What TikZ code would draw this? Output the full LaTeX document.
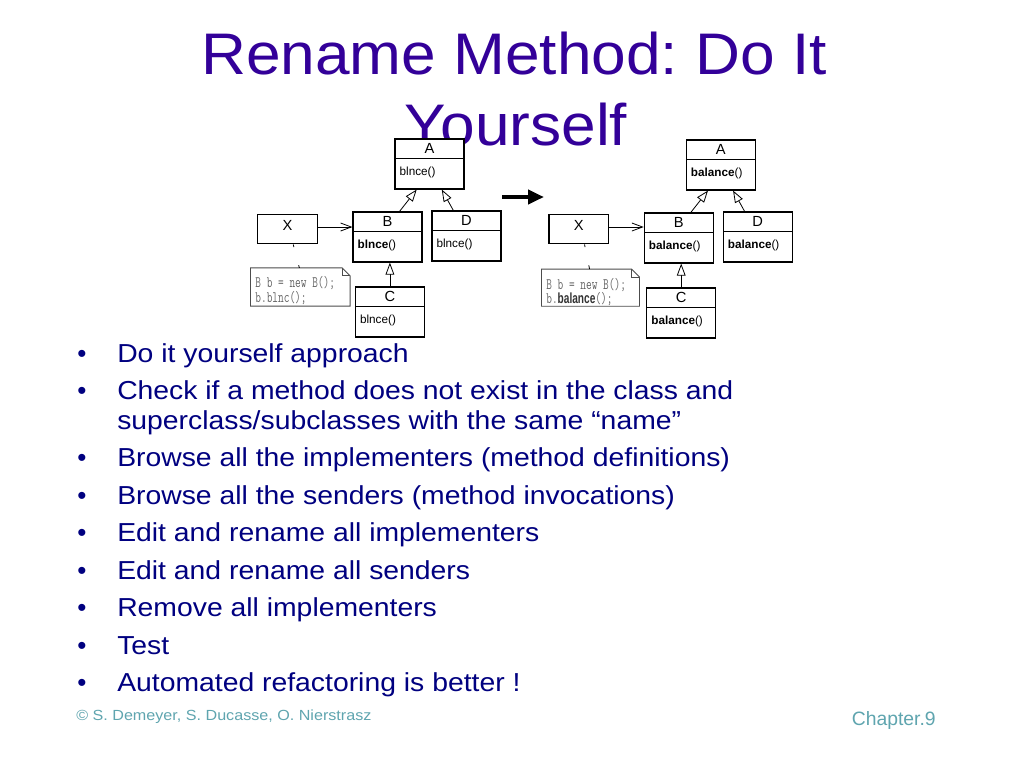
\documentclass[tikz,border=0pt]{standalone}
\usepackage{graphicx}
\usepackage{fontspec}
\setmainfont{Liberation Sans}
\usetikzlibrary{arrows.meta, shapes.multipart}
\definecolor{titlecol}{RGB}{51,0,153}
\definecolor{itemcol}{RGB}{0,0,128}
\definecolor{footcol}{RGB}{95,165,175}
\frenchspacing
\newcommand{\slidetxt}[2][1.08]{\scalebox{#1}[1]{#2}}
\newcommand{\clsname}[1]{\parbox[c][13.9pt][c]{51.75pt}{\centering\fontsize{11}{12}\selectfont #1}}
\newcommand{\clsops}[1]{\parbox[c][21.75pt][t]{51.75pt}{\fontsize{8.8}{10}\selectfont\hspace*{3.5pt}\rule{0pt}{12pt}#1}}
\newcommand{\notecode}[1]{\scalebox{0.69}[1]{#1}}
\tikzset{
  umlclass/.style={draw, fill=white, line width=0.9pt, rectangle split, rectangle split parts=2, inner sep=0pt},
  umlbox/.style={draw, fill=white, line width=0.9pt, inner sep=0pt},
  notebox/.style={inner sep=0pt, text=black!60},
  noteline/.style={draw=black!70, line width=0.6pt},
  anchorline/.style={line width=0.6pt, dash pattern=on 2pt off 14pt on 3pt},
  inherit/.style={-{Triangle[open, length=9pt, width=6.5pt, fill=white]}, line width=0.6pt},
  assoc/.style={-{Straight Barb[length=8pt, width=6pt]}, line width=0.6pt},
  bigarrow/.style={line width=3pt, -{Triangle[length=12pt, width=10.5pt]}},
  titletext/.style={anchor=base, text=titlecol, font=\fontsize{44}{50}\selectfont, inner sep=0pt},
  item/.style={anchor=base west, text=itemcol, font=\fontsize{19.5}{22.5}\selectfont, inner sep=0pt},
  foot/.style={text=footcol, inner sep=0pt}
}
\begin{document}
\begin{tikzpicture}[x=0.75pt, y=-0.75pt]
\path[fill=white, use as bounding box] (0,0) rectangle (1024,768);

\node[titletext] (t1) at (514,74) {\slidetxt[1.06]{Rename Method: Do It}};
\node[titletext] (t2) at (516,145) {\slidetxt[1.06]{Yourself}};

% before
\node[umlclass] (A1) at (429.5,164) {\clsname{A}\nodepart{two}\clsops{blnce()}};
\node[umlclass] (B1) at (387.5,237) {\clsname{B}\nodepart{two}\clsops{\textbf{blnce}()}};
\node[umlclass] (D1) at (466.4,236) {\clsname{D}\nodepart{two}\clsops{blnce()}};
\node[umlclass] (C1) at (389.9,312) {\clsname{C}\nodepart{two}\clsops{blnce()}};
\node[umlbox] (X1) at (287.5,229) {\parbox[c][22.3pt][t]{44.7pt}{\centering\fontsize{11}{12}\selectfont\rule{0pt}{12.3pt}X}};
\node[notebox] (n1) at (300.3,287) {\parbox[c][28.3pt][t]{74.3pt}{\ttfamily\fontsize{12}{9}\selectfont\hspace*{3.5pt}\rule{0pt}{14.8pt}\notecode{B b = new B();}\\\hspace*{3.5pt}\notecode{b.blnc();}}};
\draw[noteline] (n1.north west) -- ([xshift=-6pt]n1.north east) -- ([yshift=-6pt]n1.north east) -- (n1.south east) -- (n1.south west) -- cycle;
\draw[noteline] ([xshift=-6pt]n1.north east) |- ([yshift=-6pt]n1.north east);
\draw[assoc] ([yshift=1.5pt]X1.east) -- ([yshift=1.5pt]X1.east -| B1.west);
\draw[anchorline] ([xshift=4.3pt]X1.south) -- ([xshift=-0.7pt]n1.north);
\draw[inherit] ([xshift=9pt]B1.north) -- ([xshift=-9.6pt]A1.south);
\draw[inherit] ([xshift=-9.8pt]D1.north) -- ([xshift=9.2pt]A1.south);
\draw[inherit] (C1.north) -- (C1.north |- B1.south);

\coordinate (g0) at (502,197);
\coordinate (g1) at (544,197);
\draw[bigarrow] (g0) -- (g1);

% after
\node[umlclass] (A2) at (720.8,165) {\clsname{A}\nodepart{two}\clsops{\textbf{balance}()}};
\node[umlclass] (B2) at (678.8,238) {\clsname{B}\nodepart{two}\clsops{\textbf{balance}()}};
\node[umlclass] (D2) at (757.7,237) {\clsname{D}\nodepart{two}\clsops{\textbf{balance}()}};
\node[umlclass] (C2) at (681.2,313) {\clsname{C}\nodepart{two}\clsops{\textbf{balance}()}};
\node[umlbox] (X2) at (578.8,229) {\parbox[c][22.3pt][t]{44.7pt}{\centering\fontsize{11}{12}\selectfont\rule{0pt}{12.3pt}X}};
\node[notebox] (n2) at (590.5,287.7) {\parbox[c][27.5pt][t]{73.2pt}{\ttfamily\fontsize{12}{9}\selectfont\hspace*{3.5pt}\rule{0pt}{14.8pt}\notecode{B b = new B();}\\\hspace*{3.5pt}\notecode{b.{\color{black!80}\rmfamily\bfseries\fontsize{11}{9}\selectfont balance}();}}};
\draw[noteline] (n2.north west) -- ([xshift=-6pt]n2.north east) -- ([yshift=-6pt]n2.north east) -- (n2.south east) -- (n2.south west) -- cycle;
\draw[noteline] ([xshift=-6pt]n2.north east) |- ([yshift=-6pt]n2.north east);
\draw[assoc] ([yshift=1.5pt]X2.east) -- ([yshift=1.5pt]X2.east -| B2.west);
\draw[anchorline] ([xshift=4.3pt]X2.south) -- ([xshift=-0.7pt]n2.north);
\draw[inherit] ([xshift=9pt]B2.north) -- ([xshift=-9.6pt]A2.south);
\draw[inherit] ([xshift=-9.8pt]D2.north) -- ([xshift=9.2pt]A2.south);
\draw[inherit] (C2.north) -- (C2.north |- B2.south);

\node[item] (i1) at (77,362.3) {\makebox[30pt][l]{•}\slidetxt[1.09]{Do it yourself approach}};
\node[item] (i2) at (77,399.3) {\makebox[30pt][l]{•}\slidetxt[1.09]{Check if a method does not exist in the class and}};
\node[item] (i2b) at (117,429.3) {\slidetxt[1.09]{superclass/subclasses with the same “name”}};
\node[item] (i3) at (77,466.7) {\makebox[30pt][l]{•}\slidetxt[1.09]{Browse all the implementers (method definitions)}};
\node[item] (i4) at (77,504.2) {\makebox[30pt][l]{•}\slidetxt[1.09]{Browse all the senders (method invocations)}};
\node[item] (i5) at (77,541.7) {\makebox[30pt][l]{•}\slidetxt[1.09]{Edit and rename all implementers}};
\node[item] (i6) at (77,579.2) {\makebox[30pt][l]{•}\slidetxt[1.09]{Edit and rename all senders}};
\node[item] (i7) at (77,616.7) {\makebox[30pt][l]{•}\slidetxt[1.09]{Remove all implementers}};
\node[item] (i8) at (77,654.2) {\makebox[30pt][l]{•}\slidetxt[1.09]{Test}};
\node[item] (i9) at (77,691.7) {\makebox[30pt][l]{•}\slidetxt[1.09]{Automated refactoring is better !}};

\node[foot, anchor=base west, font=\fontsize{11}{13}\selectfont] (f1) at (76,720) {\slidetxt[1.1]{© S. Demeyer, S. Ducasse, O. Nierstrasz}};
\node[foot, anchor=base east, font=\fontsize{14.5}{16}\selectfont] (f2) at (936,725) {Chapter.9};
\end{tikzpicture}
\end{document}
